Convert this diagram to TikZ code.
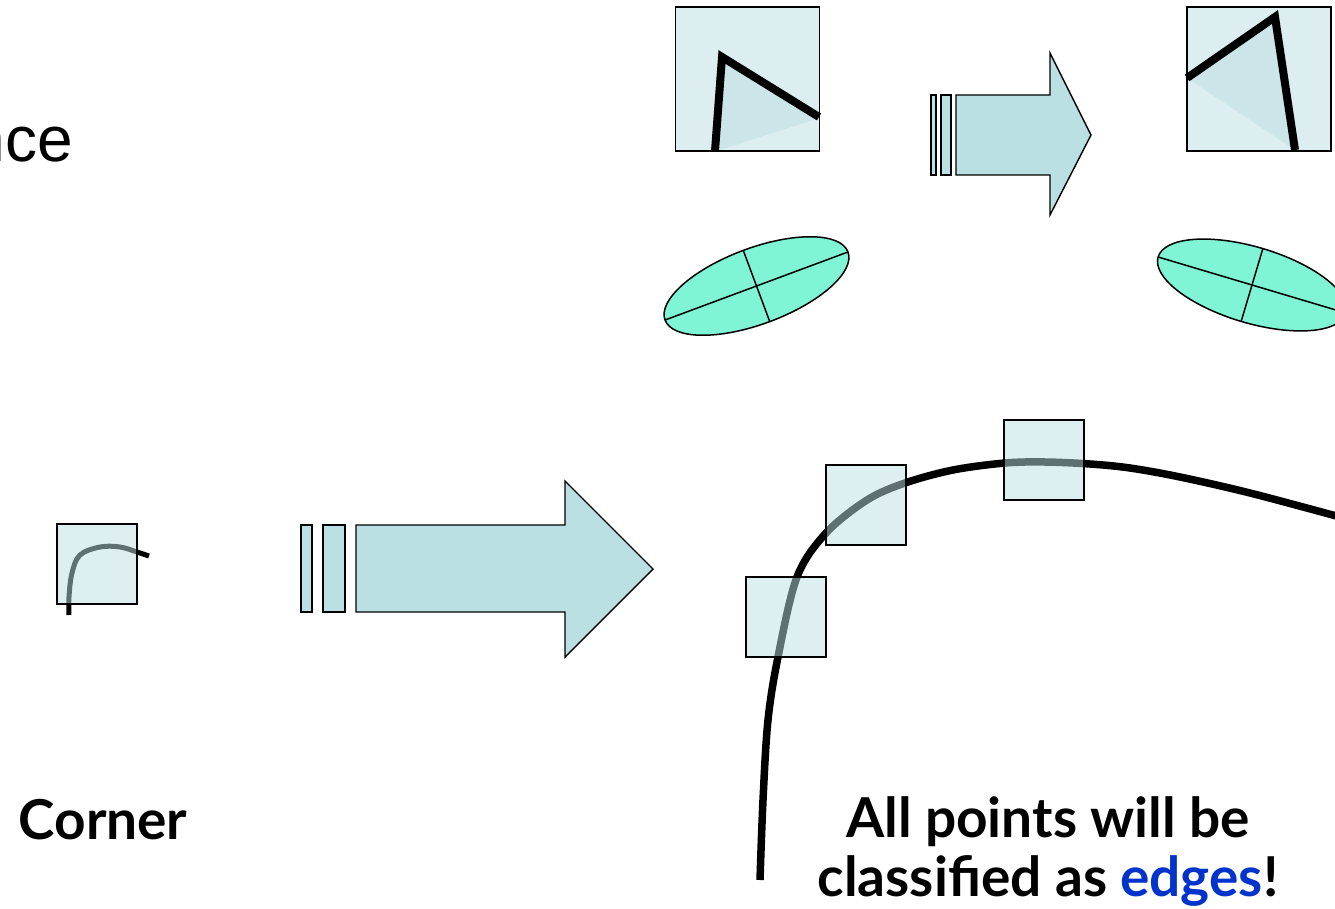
\documentclass[tikz,border=0pt]{standalone}
\usepackage{fontspec}
\newfontfamily\arialfont{Liberation Sans}
\newfontfamily\latofont{Lato}
\definecolor{boxfill}{HTML}{BEE0E6}
\definecolor{boxlight}{HTML}{DDEEF0}
\definecolor{wedge}{HTML}{CCE5E9}
\definecolor{arrowfill}{HTML}{BBE0E3}
\definecolor{ellfill}{HTML}{80F5D5}
\definecolor{edgeblue}{HTML}{0033CC}
\tikzset{
  window/.style={rectangle, draw=black, line width=1.6pt, fill=boxfill,
    fill opacity=0.5, draw opacity=1, minimum size=80pt, inner sep=0pt},
  bigwindow/.style={rectangle, draw=black, line width=1.6pt, fill=boxlight,
    minimum size=144pt, inner sep=0pt},
  shift arrow/.style={draw=black, line width=1.4pt, fill=arrowfill, line join=miter},
  ellipse mark/.style={draw=black, line width=1.5pt, fill=ellfill},
  edge line/.style={draw=black, line width=8pt},
  label text/.style={font=\latofont\bfseries\fontsize{55}{59}\selectfont, align=center, inner sep=0pt}
}
\begin{document}
\begin{tikzpicture}[x=1pt,y=-1pt]
\useasboundingbox (0,0) rectangle (1335,909);
\clip (0,0) rectangle (1335,909);

% partial word on the left
\node[anchor=base east, inner sep=0pt, font=\arialfont\fontsize{64}{64}\selectfont] (nce) at (73,162) {nce};

% top-left window with the corner
\node[bigwindow] (winA) at (747.5,79) {};
\fill[wedge] (720,150) -- (722,57) -- (819,118) -- cycle;
\draw[edge line, line join=miter] (715,151) -- (722,57) -- (819,117);
\node[bigwindow, fill=none] (winAb) at (747.5,79) {};

% top-right window with the rotated corner
\node[bigwindow] (winB) at (1259,79) {};
\fill[wedge] (1190,80) -- (1275,17) -- (1292,148) -- cycle;
\draw[edge line, line join=miter] (1187,78) -- (1275,17) -- (1295,150);
\node[bigwindow, fill=none] (winBb) at (1259,79) {};

% small arrow between them
\draw[shift arrow] (931,95) rectangle (936,175);
\draw[shift arrow] (941,95) rectangle (951,175);
\draw[shift arrow] (956,95) -- (1050,95) -- (1050,53) -- (1091,135) -- (1050,215) -- (1050,175) -- (956,175) -- cycle;

% second-moment ellipses
\begin{scope}[shift={(756.5,286)}, rotate=20.4]
  \draw[ellipse mark] (0,0) ellipse [x radius=97.6pt, y radius=38pt];
  \draw[line width=1.5pt] (-97.6,0) -- (97.6,0);
  \draw[line width=1.5pt] (0,-38) -- (0,38);
\end{scope}
\begin{scope}[shift={(1252,285)}, rotate=-16.6]
  \draw[ellipse mark] (0,0) ellipse [x radius=98pt, y radius=38pt];
  \draw[line width=1.5pt] (-98,0) -- (98,0);
  \draw[line width=1.5pt] (0,-38) -- (0,38);
\end{scope}

% small corner window
\draw[line width=5pt, line cap=butt] plot[smooth, tension=0.6] coordinates
  {(69,615) (69,597) (72,573) (80,555) (100,547) (120,547) (137,552) (149,556)};
\node[window] (small) at (97,564) {};

% big arrow
\draw[shift arrow] (301,525) rectangle (312,612);
\draw[shift arrow] (323,525) rectangle (345,612);
\draw[shift arrow] (356,525) -- (565,525) -- (565,481) -- (653,569) -- (565,657) -- (565,612) -- (356,612) -- cycle;

% magnified curve with windows along it
\draw[line width=7.5pt, line cap=butt] plot[smooth, tension=0.55] coordinates
  {(760,880) (763,800) (768,720) (778,657) (797,577) (826,533) (867,500)
   (905,483) (953,470) (1005,463) (1045,462) (1090,464) (1130,468)
   (1180,477) (1250,493) (1340,517)};
\node[window] (w1) at (786,617) {};
\node[window] (w2) at (866,505) {};
\node[window] (w3) at (1044,460) {};

% labels
\node[label text] (corner) at (103,820) {Corner};
\node[label text, anchor=base] (verdict) at (1048,896)
  {All points will be\\classified as {\color{edgeblue}edges}!};
\end{tikzpicture}
\end{document}
